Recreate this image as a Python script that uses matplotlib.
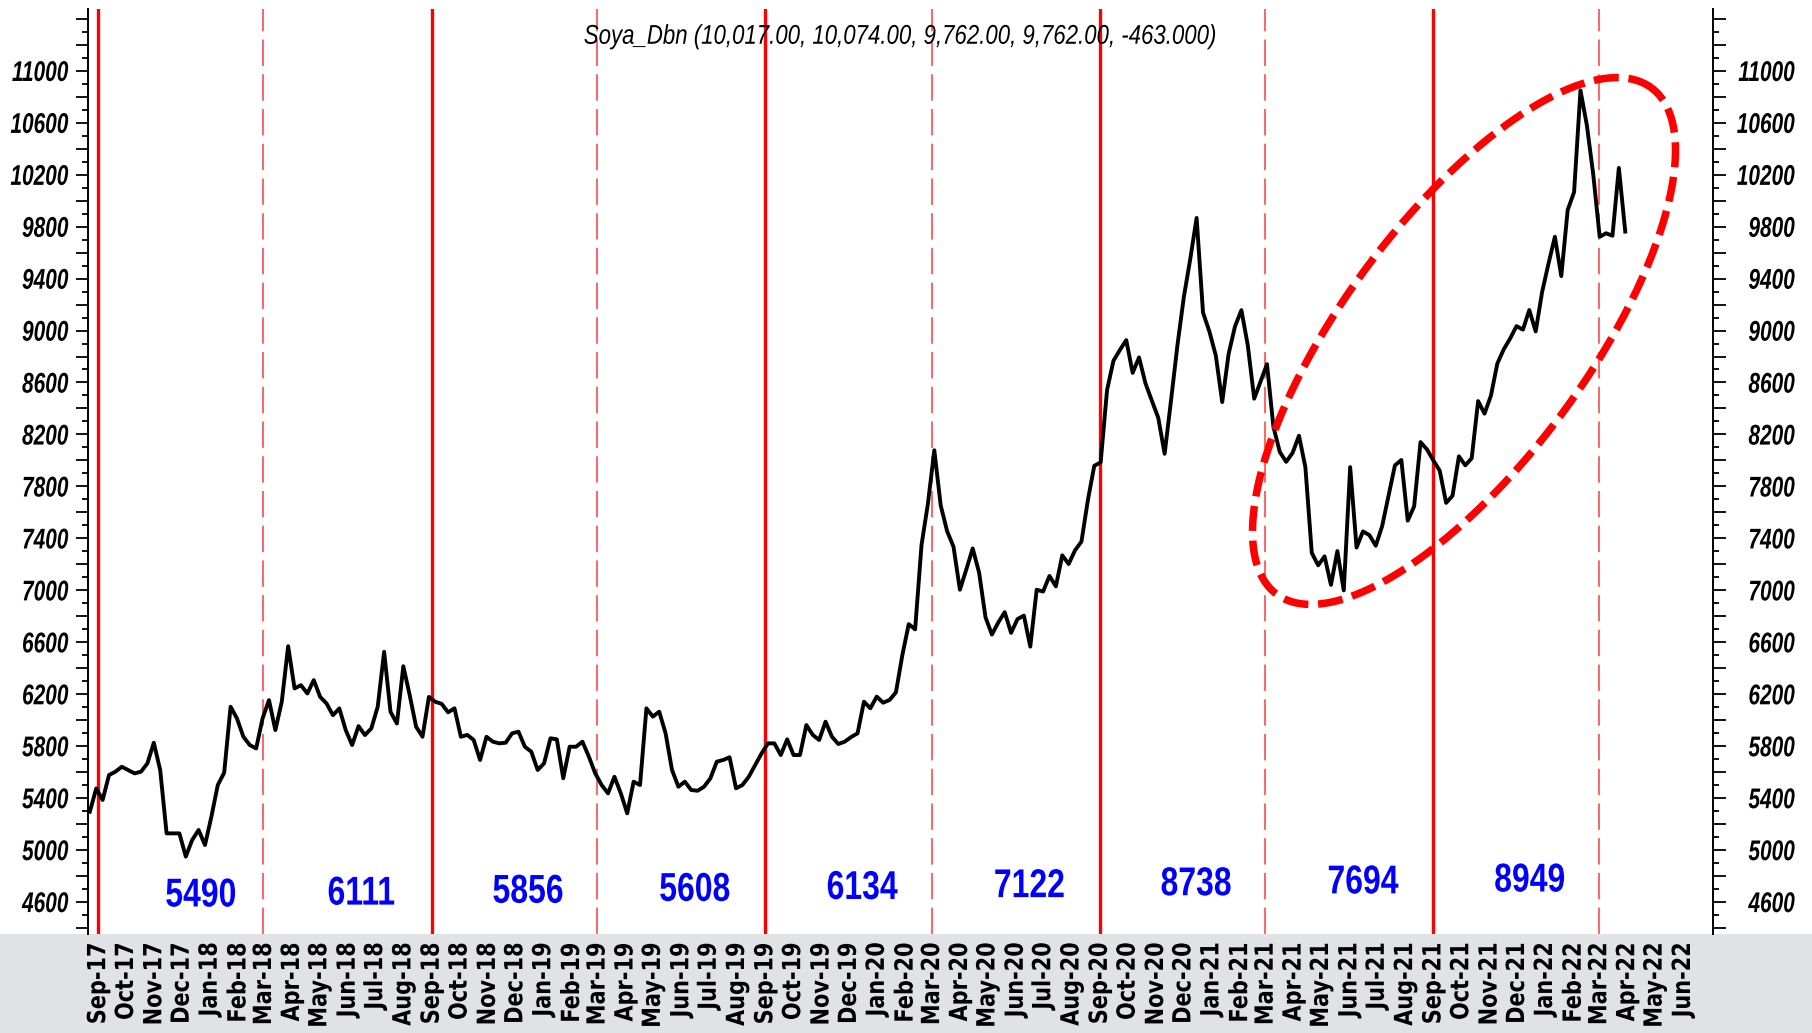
#---Soya_Dbn weekly chart with half-year averages-----------------------------------------
import numpy as np
import pandas as pd
import matplotlib
matplotlib.use('Agg')
import matplotlib.pyplot as plt
from matplotlib.lines import Line2D
from matplotlib.patches import Rectangle
from matplotlib.patheffects import AbstractPathEffect
from matplotlib.transforms import Affine2D

plt.rcParams['lines.scale_dashes'] = False

#---Data (weekly close)--------------------------------------------------------------------
week_start = '2017-08-23'
close = [
    5295, 5474, 5385, 5577, 5603, 5641, 5615, 5590, 5603, 5667,
    5826, 5615, 5128, 5128, 5128, 4949, 5077, 5154, 5038, 5256,
    5500, 5595, 6103, 6013, 5872, 5808, 5782, 6013, 6154, 5923,
    6141, 6569, 6244, 6269, 6205, 6308, 6179, 6128, 6038, 6090,
    5923, 5808, 5954, 5885, 5936, 6103, 6526, 6064, 5974, 6415,
    6192, 5949, 5872, 6179, 6141, 6125, 6060, 6091, 5872, 5886,
    5847, 5693, 5872, 5834, 5821, 5826, 5898, 5911, 5795, 5757,
    5616, 5667, 5860, 5852, 5552, 5795, 5795, 5834, 5719, 5590,
    5500, 5436, 5564, 5436, 5282, 5526, 5500, 6091, 6027, 6065,
    5898, 5616, 5487, 5526, 5462, 5456, 5487, 5552, 5680, 5693,
    5714, 5475, 5500, 5564, 5654, 5744, 5821, 5821, 5731, 5852,
    5731, 5731, 5962, 5886, 5847, 5988, 5872, 5816, 5834, 5870,
    5898, 6142, 6091, 6181, 6134, 6155, 6214, 6500, 6739, 6699,
    7348, 7667, 8078, 7653, 7455, 7335, 7004, 7160, 7322, 7136,
    6792, 6659, 6752, 6831, 6672, 6778, 6805, 6566, 7004, 6990,
    7110, 7030, 7269, 7202, 7308, 7375, 7693, 7958, 7985, 8542,
    8767, 8850, 8926, 8674, 8793, 8594, 8460, 8329, 8051, 8462,
    8886, 9257, 9549, 9867, 9138, 8992, 8807, 8449, 8820, 9032,
    9157, 8886, 8475, 8608, 8741, 8260, 8065, 7989, 8058, 8190,
    7948, 7288, 7192, 7261, 7041, 7302, 6999, 7948, 7329, 7453,
    7425, 7343, 7494, 7730, 7962, 8003, 7536, 7646, 8141, 8085,
    8000, 7921, 7673, 7728, 8031, 7962, 8017, 8457, 8360, 8498,
    8745, 8855, 8938, 9034, 9007, 9158, 8993, 9296, 9515, 9722,
    9419, 9928, 10066, 10849, 10580, 10200, 9722, 9749, 9730, 10252, 9762,
]

#---Half-year boundaries and average labels
period_bounds = ['2017-09-01', '2018-03-01', '2018-09-01', '2019-03-01', '2019-09-01',
                 '2020-03-01', '2020-09-01', '2021-03-01', '2021-09-01', '2022-03-01']
period_avg = [5490, 6111, 5856, 5608, 6134, 7122, 8738, 7694, 8949]

title_txt = 'Soya_Dbn (10,017.00, 10,074.00, 9,762.00, 9,762.00, -463.000)'

dates = pd.date_range(week_start, periods=len(close), freq='7D')
bounds = pd.to_datetime(period_bounds)
months = pd.date_range('2017-09-01', '2022-06-01', freq='MS')


#---Glyph stretch/squeeze (no narrow font installed)----------------------------------------
class Squash(AbstractPathEffect):
    def __init__(self, sx=1.0, anchor=0.5, sy=1.0):
        super().__init__()
        self.sx = sx
        self.sy = sy
        self.anchor = anchor

    def draw_path(self, renderer, gc, tpath, affine, rgbFace=None):
        ext = tpath.get_extents()
        w = ext.x1 * self.anchor
        h = (ext.y0 + ext.y1) / 2
        pre = Affine2D().translate(-w, -h).scale(self.sx, self.sy).translate(w, h)
        renderer.draw_path(gc, tpath, pre + affine, rgbFace)


FONT = 'Liberation Sans'

#---Figure set-up----------------------------------------------------------------------------
W, H = 1812, 1033
fg = plt.figure(figsize=(W / 100, H / 100), dpi=100, facecolor='white')
fg.add_artist(Rectangle((0, 0), 1, 99 / H, transform=fg.transFigure,
                        facecolor='#e1e2e6', edgecolor='none', zorder=-5))
ax = fg.add_axes([88 / W, 99 / H, 1625 / W, 925 / H])

yMin, yMax = 4353, 11476
ax.set_xlim(pd.Timestamp('2017-08-21'), pd.Timestamp('2022-07-04'))
ax.set_ylim(yMin, yMax)

#---Price line
ax.plot(dates, close, color='black', lw=2.8, zorder=5)

#---Vertical period lines
for i, b in enumerate(bounds):
    if b.month == 9:
        ax.axvline(b, color='#ff0000', lw=2.4, zorder=3)
    else:
        ax.axvline(b, color='#ff4a4a', lw=1.2, dashes=(19, 6), zorder=3)

#---Half-year average labels
lab_y = np.linspace(0.0415, 0.0577, len(period_avg))
for i, v in enumerate(period_avg):
    shift = 22 if i == 0 else 15
    mid = bounds[i] + (bounds[i + 1] - bounds[i]) / 2 + pd.Timedelta(days=shift)
    ax.text(mid, lab_y[i], str(v), transform=ax.get_xaxis_transform(),
            ha='center', va='center', color='#0000ff', fontsize=23,
            fontweight='bold', family=FONT, zorder=6,
            path_effects=[Squash(1.0, 0.5, sy=1.26)])

#---X axis (months)
ax.set_xticks(months)
ax.set_xticklabels([d.strftime('%b-%y') for d in months], rotation=90,
                   family='DejaVu Sans', fontweight='bold', fontsize=15,
                   ha='center', va='top')
ax.tick_params(axis='x', length=0, pad=6)
for t in ax.get_xticklabels():
    t.set_path_effects([Squash(1.0, 1.0, sy=1.2)])

#---Y axes (both sides)
major = np.arange(4400, 11401, 200)
minor = np.arange(4400, 11401, 100)
ylabels = [str(v) if (v - 200) % 400 == 0 and v <= 11000 else '' for v in major]

ax2 = ax.twinx()
ax2.set_ylim(yMin, yMax)
for a in (ax, ax2):
    a.set_yticks(major)
    a.set_yticks(minor, minor=True)
    a.set_yticklabels(ylabels, family=FONT, fontweight='bold', style='italic',
                      fontsize=15)
    for s in ['top', 'bottom']:
        a.spines[s].set_visible(False)
ax.spines['right'].set_visible(False)
ax2.spines['left'].set_visible(False)
ax.spines['left'].set_linewidth(1.4)
ax2.spines['right'].set_linewidth(1.4)

ax.tick_params(axis='y', which='major', length=9, width=1.3, pad=5)
ax.tick_params(axis='y', which='minor', length=4, width=1.3)
ax2.tick_params(axis='y', which='major', length=9, width=1.3, pad=50)
ax2.tick_params(axis='y', which='minor', length=4, width=1.3)
for t in ax.get_yticklabels():
    t.set_path_effects([Squash(1.0, 1.0, sy=1.37)])
for t in ax2.get_yticklabels():
    t.set_horizontalalignment('right')
    t.set_path_effects([Squash(1.0, 1.0, sy=1.37)])

#---Title
fg.text(900 / W, 1 - 37 / H, title_txt, ha='center', va='center',
        fontsize=16, style='italic', family=FONT,
        path_effects=[Squash(1.0, 0.5, sy=1.22)])

#---Highlight ellipse (pixel geometry)
cx, cy = 1464, H - 341
a_ax, b_ax = 315, 122
th = np.deg2rad(53.5)
t = np.linspace(0, 2 * np.pi, 400)
ex = cx + a_ax * np.cos(th) * np.cos(t) - b_ax * np.sin(th) * np.sin(t)
ey = cy + a_ax * np.sin(th) * np.cos(t) + b_ax * np.cos(th) * np.sin(t)
fg.add_artist(Line2D(ex / W, ey / H, transform=fg.transFigure, color='#ff0000',
                     lw=5.4, dashes=(18, 7), dash_capstyle='butt', zorder=10))

plt.savefig('out.png', dpi=100)
